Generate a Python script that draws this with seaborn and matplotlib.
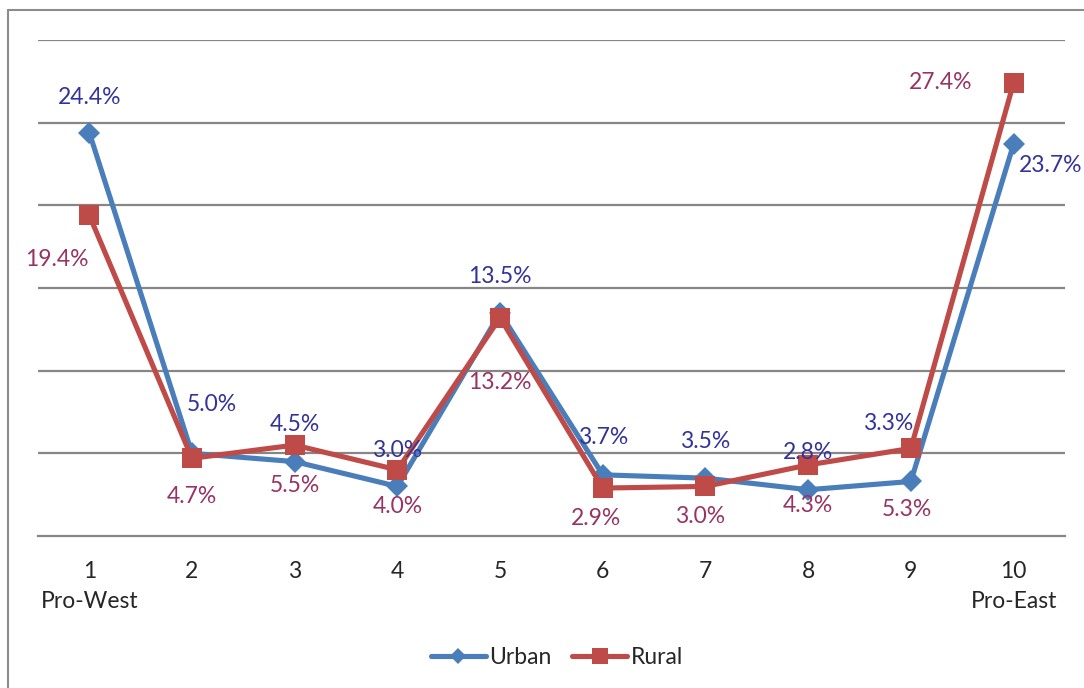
import seaborn as sns
import matplotlib.pyplot as plt
import pandas as pd
from matplotlib.lines import Line2D

# position on the West-East scale, share of respondents (%)
positions = [1, 2, 3, 4, 5, 6, 7, 8, 9, 10]
tick_labels = ["1\nPro-West", "2", "3", "4", "5", "6", "7", "8", "9", "10\nPro-East"]
urban = [24.4, 5.0, 4.5, 3.0, 13.5, 3.7, 3.5, 2.8, 3.3, 23.7]
rural = [19.4, 4.7, 5.5, 4.0, 13.2, 2.9, 3.0, 4.3, 5.3, 27.4]

# label offsets in pixels (placed by hand like in the original)
urban_offsets = [(0, 35), (20, 49), (0, 37), (0, 36), (0, 36),
                 (0, 37), (0, 37), (0, 37), (-23, 58), (37, -21)]
rural_offsets = [(-32, -44), (0, -38), (0, -40), (0, -37), (0, -65),
                 (-7, -30), (-5, -30), (0, -41), (-4, -61), (-73, 0)]

urban_color = "#4A7EBB"
rural_color = "#BE4B48"
urban_text = "#33339A"
rural_text = "#973464"
fsize = 16.5

df = pd.DataFrame({
    "position": positions * 2,
    "share": urban + rural,
    "area": ["Urban"] * len(urban) + ["Rural"] * len(rural),
})

sns.set_style("white")
plt.rcParams["font.family"] = ["Lato", "DejaVu Sans"]

fig = plt.figure(figsize=(10.84, 6.88), dpi=100)
ax = fig.add_axes([0.035, 0.2209, 0.9474, 0.721])

for ymark in [5, 10, 15, 20, 25, 30]:
    ax.axhline(ymark, color="#868686", linewidth=1.6, zorder=0)

sns.lineplot(data=df[df.area == "Urban"], x="position", y="share", color=urban_color,
             marker="D", markersize=11, markeredgewidth=0, linewidth=3.7, ax=ax)
sns.lineplot(data=df[df.area == "Rural"], x="position", y="share", color=rural_color,
             marker="s", markersize=14, markeredgewidth=0, linewidth=3.7, ax=ax)

for x, v, off in zip(positions, urban, urban_offsets):
    ax.annotate(f"{v:.1f}%", (x, v), xytext=off, textcoords="offset pixels",
                ha="center", va="center", fontsize=fsize, color=urban_text)
for x, v, off in zip(positions, rural, rural_offsets):
    ax.annotate(f"{v:.1f}%", (x, v), xytext=off, textcoords="offset pixels",
                ha="center", va="center", fontsize=fsize, color=rural_text)

ax.set_xlim(0.5, 10.5)
ax.set_ylim(0, 30)
ax.set_yticks([])
ax.set_xticks(positions)
ax.set_xticklabels(tick_labels, fontsize=fsize, linespacing=1.55, va="top")
ax.set_xticks([p + 0.5 for p in [0] + positions], minor=True)
ax.tick_params(axis="x", which="major", length=0, pad=18)
ax.tick_params(axis="x", which="minor", length=6, width=1.6, color="#868686", direction="out")
ax.set_xlabel("")
ax.set_ylabel("")
for side in ["top", "right", "left"]:
    ax.spines[side].set_visible(False)
ax.spines["bottom"].set_color("#868686")
ax.spines["bottom"].set_linewidth(1.6)

handles = [
    Line2D([], [], color=urban_color, marker="D", markersize=8.5, markeredgewidth=0, linewidth=3.7),
    Line2D([], [], color=rural_color, marker="s", markersize=11.5, markeredgewidth=0, linewidth=3.7),
]
fig.legend(handles, ["Urban", "Rural"], loc="center", bbox_to_anchor=(557 / 1084, 1 - 658 / 688),
           ncol=2, frameon=False, fontsize=fsize, handlelength=2.4, handletextpad=0.15,
           columnspacing=0.9)

# outer chart frame (left and top edges visible)
fig.add_artist(Line2D([8 / 1084, 8 / 1084], [0, 1 - 10 / 688], color="#8C8C8C", linewidth=1.5))
fig.add_artist(Line2D([8 / 1084, 1], [1 - 10 / 688, 1 - 10 / 688], color="#8C8C8C", linewidth=1.5))

fig.savefig("out.png", dpi=100)
